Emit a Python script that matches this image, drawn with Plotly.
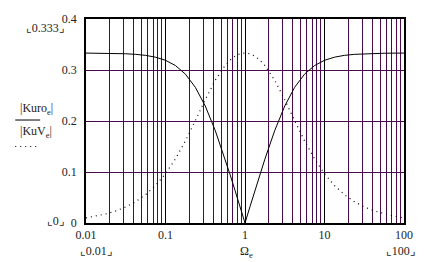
import plotly.graph_objects as go

omega = [0.01, 0.013335, 0.017783, 0.023714, 0.031623, 0.04217, 0.056234, 0.074989,
         0.1, 0.13335, 0.17783, 0.23714, 0.31623, 0.4217, 0.56234, 0.64938, 0.74989, 0.86596,
         1.0,
         1.15478, 1.33352, 1.53993, 1.77828, 2.37137, 3.16228, 4.21697, 5.62341, 7.49894,
         10.0, 13.3352, 17.7828, 23.7137, 31.6228, 42.1697, 56.2341, 74.9894, 100.0]

kuro_half = [0.33318, 0.33307, 0.33286, 0.33249, 0.33184, 0.33068, 0.32868, 0.32512,
             0.31900, 0.30871, 0.29196, 0.26618, 0.22941, 0.18164, 0.12521, 0.09486, 0.06365, 0.03194]
kuv_half = [0.00999, 0.01333, 0.01776, 0.02367, 0.03151, 0.04191, 0.05562, 0.07356,
            0.09667, 0.12574, 0.16084, 0.20065, 0.24183, 0.27950, 0.30892, 0.31955, 0.32720, 0.33180]

kuro = kuro_half + [0.0] + kuro_half[::-1]
kuv = kuv_half + [0.33333] + kuv_half[::-1]

x_ticks = [0.01, 0.1, 1, 10, 100]
x_tick_text = ["0.01", "0.1", "1", "10", "100"]
y_ticks = [0, 0.1, 0.2, 0.3, 0.4]
y_tick_text = ["0", "0.1", "0.2", "0.3", "0.4"]

FONT = "Liberation Serif, DejaVu Serif, DejaVu Sans"
GRID = "#4a0a4e"
TXT = "#222222"

L, R, T, B = 86, 405, 15, 223
W, H = 425, 262

fig = go.Figure()
fig.add_trace(go.Scatter(x=omega, y=kuro, mode="lines",
                         line=dict(color="black", width=1), showlegend=False))
fig.add_trace(go.Scatter(x=omega, y=kuv, mode="lines",
                         line=dict(color="black", width=1.2, dash="1px,4px"), showlegend=False))

fig.update_layout(
    width=W, height=H,
    margin=dict(l=L, r=W - R, t=T, b=H - B),
    paper_bgcolor="white", plot_bgcolor="white",
    font=dict(family=FONT, size=12, color=TXT),
    xaxis=dict(type="log", range=[-2, 2], tickvals=x_ticks, ticktext=x_tick_text,
               showgrid=True, gridcolor="black", gridwidth=1,
               minor=dict(dtick="D1", showgrid=True, gridcolor=GRID, gridwidth=1, ticks=""),
               showline=True, linecolor="black", linewidth=1.5, mirror=True,
               ticks="", ticklabelstandoff=0, zeroline=False),
    yaxis=dict(range=[0, 0.4], tickvals=y_ticks, ticktext=y_tick_text,
               showgrid=True, gridcolor=GRID, gridwidth=1,
               showline=True, linecolor="black", linewidth=1.5, mirror=True,
               ticks="", ticklabelstandoff=5, zeroline=False),
)


def px(xp, yp):
    return (xp - L) / (R - L), (B - yp) / (B - T)


anns = [
    (45, 24, "⌞0.333⌟"),
    (55, 221, "⌞0⌟"),
    (96, 252, "⌞0.01⌟"),
    (401, 252, "⌞100⌟"),
    (247, 253, "Ω<sub>e</sub>"),
    (36, 107, "|Kuro<sub>e</sub>|"),
    (36, 130, "|KuV<sub>e</sub>|"),
]
for xp, yp, t in anns:
    xx, yy = px(xp, yp)
    fig.add_annotation(x=xx, y=yy, xref="paper", yref="paper",
                       text=t, showarrow=False, xanchor="center", yanchor="middle",
                       font=dict(family=FONT, size=12, color=TXT))

x0, y0 = px(15, 118)
x1, _ = px(40, 118)
fig.add_shape(type="line", xref="paper", yref="paper",
              x0=x0, x1=x1, y0=y0, y1=y0, line=dict(color="black", width=1))
_, y2 = px(15, 145)
fig.add_shape(type="line", xref="paper", yref="paper",
              x0=x0, x1=x1, y0=y2, y1=y2, line=dict(color="black", width=1.2, dash="1px,4px"))

fig.write_html("out.html")
